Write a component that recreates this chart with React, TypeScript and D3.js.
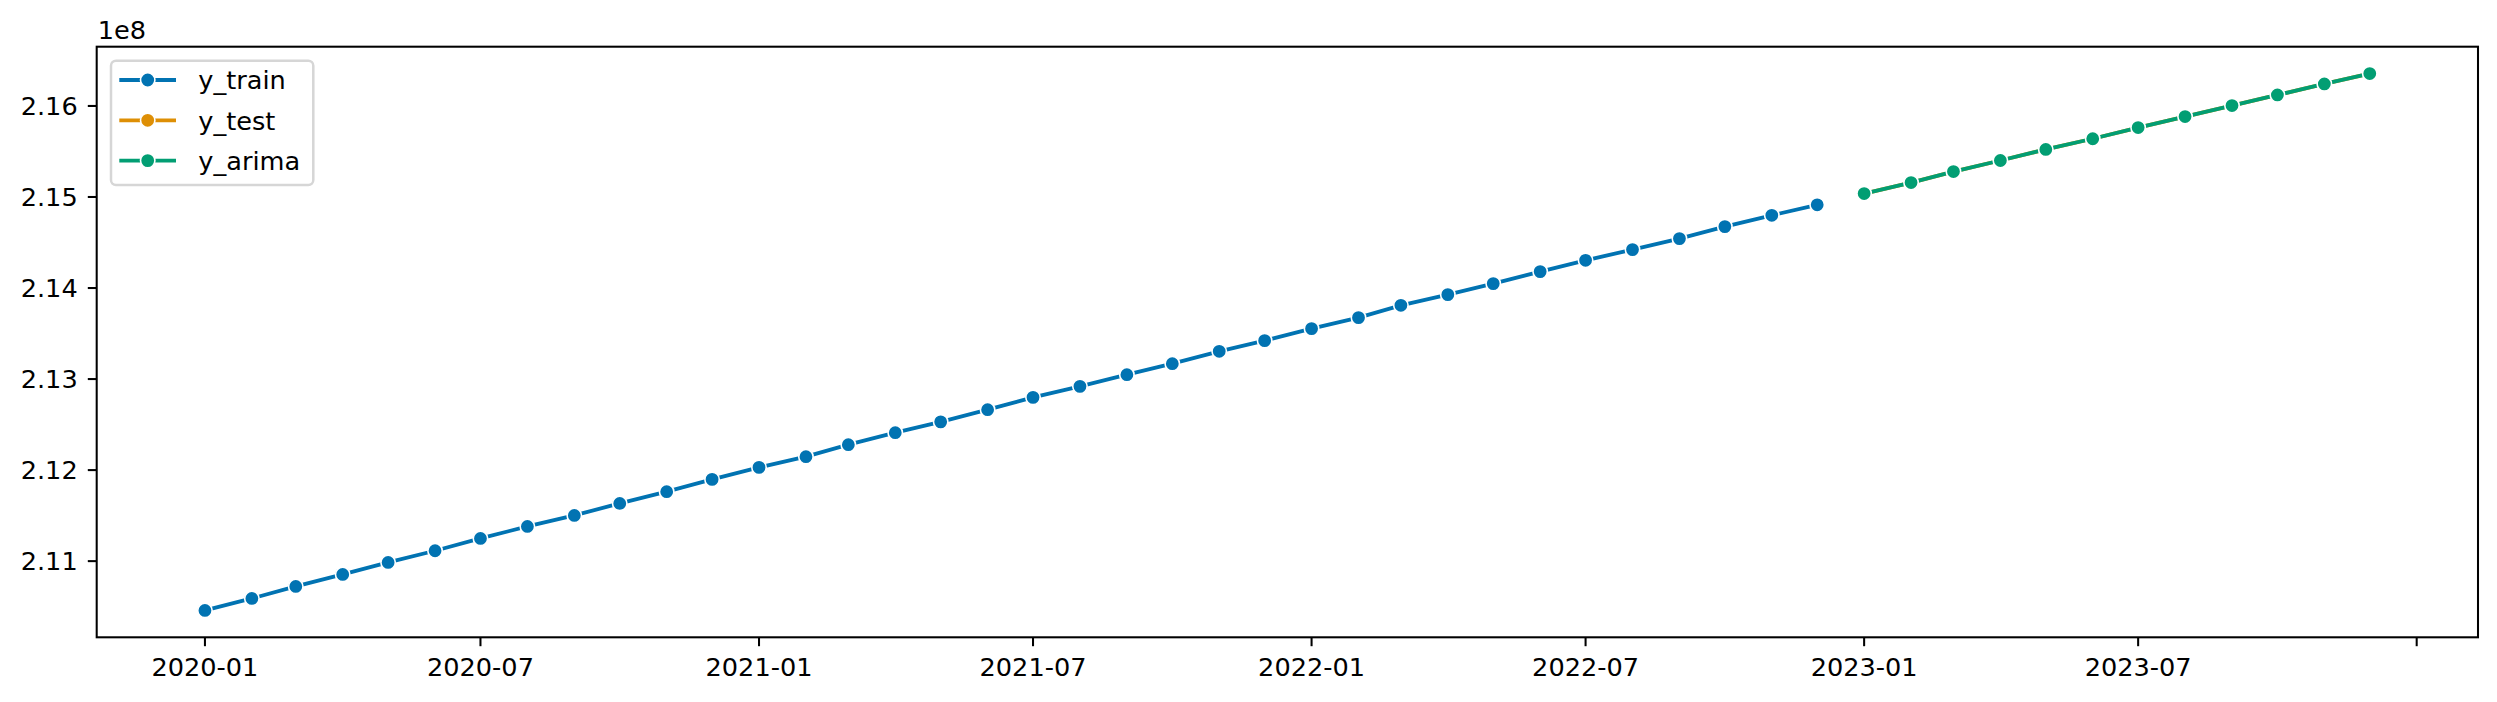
import { useEffect, useRef } from 'react';
import * as d3 from 'd3';

// monthly dates
const trainDates = [
  '2020-01', '2020-02', '2020-03', '2020-04', '2020-05', '2020-06',
  '2020-07', '2020-08', '2020-09', '2020-10', '2020-11', '2020-12',
  '2021-01', '2021-02', '2021-03', '2021-04', '2021-05', '2021-06',
  '2021-07', '2021-08', '2021-09', '2021-10', '2021-11', '2021-12',
  '2022-01', '2022-02', '2022-03', '2022-04', '2022-05', '2022-06',
  '2022-07', '2022-08', '2022-09', '2022-10', '2022-11', '2022-12',
];
const testDates = [
  '2023-01', '2023-02', '2023-03', '2023-04', '2023-05', '2023-06',
  '2023-07', '2023-08', '2023-09', '2023-10', '2023-11', '2023-12',
];

const yTrain = [
  210458200, 210590100, 210722000, 210853800, 210985700, 211114300,
  211249500, 211381300, 211502200, 211634100, 211762600, 211897800,
  212029700, 212147300, 212279100, 212411000, 212529700, 212663700,
  212798900, 212919800, 213048400, 213169200, 213304400, 213422000,
  213553800, 213674700, 213809900, 213927500, 214048400, 214180200,
  214304400, 214422000, 214542900, 214674700, 214798900, 214914300,
];
// y_test sits under y_arima in the picture
const yTest = [
  215037400, 215158200, 215279100, 215401100, 215522000, 215639600,
  215762600, 215883500, 216004400, 216120900, 216241800, 216356000,
];
const yArima = [
  215037400, 215158200, 215279100, 215401100, 215522000, 215639600,
  215762600, 215883500, 216004400, 216120900, 216241800, 216356000,
];

const xTickDates = [
  '2020-01', '2020-07', '2021-01', '2021-07', '2022-01',
  '2022-07', '2023-01', '2023-07', '2024-01',
];
const xTickLabels = [
  '2020-01', '2020-07', '2021-01', '2021-07', '2022-01',
  '2022-07', '2023-01', '2023-07', '',
];
const yTicks = [2.11, 2.12, 2.13, 2.14, 2.15, 2.16];

const seriesNames = ['y_train', 'y_test', 'y_arima'];
const colors = ['#0173b2', '#de8f05', '#029e73'];

export default function App() {
  const svgRef = useRef<SVGSVGElement>(null);

  useEffect(() => {
    const width = 2497;
    const height = 702;
    const left = 96.7;
    const right = 2478;
    const top = 46.7;
    const bottom = 637.3;
    const fontSize = 25.6;
    const font = 'DejaVu Sans, sans-serif';
    const tickLen = 8.9;
    const spineW = 2.05;
    const lineW = 3.8;
    const markerR = 7.2;

    const parse = d3.utcParse('%Y-%m');
    const series = [
      { dates: trainDates, values: yTrain },
      { dates: testDates, values: yTest },
      { dates: testDates, values: yArima },
    ].map((s) => s.dates.map((d, i) => ({ date: parse(d)!, value: s.values[i] / 1e8 })));

    const all = series.flat();
    const [d0, d1] = d3.extent(all, (d) => d.date) as [Date, Date];
    const [v0, v1] = d3.extent(all, (d) => d.value) as [number, number];
    const dPad = (d1.getTime() - d0.getTime()) * 0.05;
    const vPad = (v1 - v0) * 0.05;

    const x = d3
      .scaleUtc()
      .domain([new Date(d0.getTime() - dPad), new Date(d1.getTime() + dPad)])
      .range([left, right]);
    const y = d3.scaleLinear().domain([v0 - vPad, v1 + vPad]).range([bottom, top]);

    const svg = d3.select(svgRef.current);
    svg.selectAll('*').remove();
    svg.attr('width', width).attr('height', height);

    svg.append('rect').attr('width', width).attr('height', height).attr('fill', '#fff');

    // x ticks
    const xt = svg.append('g');
    xTickDates.forEach((t, i) => {
      const px = x(parse(t)!);
      xt.append('line')
        .attr('x1', px).attr('x2', px)
        .attr('y1', bottom).attr('y2', bottom + tickLen)
        .attr('stroke', '#000').attr('stroke-width', spineW);
      xt.append('text')
        .attr('x', px).attr('y', bottom + 38.5)
        .attr('text-anchor', 'middle')
        .attr('font-family', font).attr('font-size', fontSize)
        .attr('fill', '#000')
        .text(xTickLabels[i]);
    });

    // y ticks
    const yt = svg.append('g');
    yTicks.forEach((t) => {
      const py = y(t);
      yt.append('line')
        .attr('x1', left - tickLen).attr('x2', left)
        .attr('y1', py).attr('y2', py)
        .attr('stroke', '#000').attr('stroke-width', spineW);
      yt.append('text')
        .attr('x', left - 19).attr('y', py)
        .attr('dy', '0.36em')
        .attr('text-anchor', 'end')
        .attr('font-family', font).attr('font-size', fontSize)
        .attr('fill', '#000')
        .text(t.toFixed(2));
    });

    svg.append('text')
      .attr('x', left + 1).attr('y', top - 8)
      .attr('font-family', font).attr('font-size', fontSize)
      .attr('fill', '#000')
      .text('1e8');

    // lines + markers
    const line = d3
      .line<{ date: Date; value: number }>()
      .x((d) => x(d.date))
      .y((d) => y(d.value));

    series.forEach((s, i) => {
      const g = svg.append('g');
      g.append('path')
        .datum(s)
        .attr('d', line)
        .attr('fill', 'none')
        .attr('stroke', colors[i])
        .attr('stroke-width', lineW);
      g.selectAll('circle')
        .data(s)
        .enter()
        .append('circle')
        .attr('cx', (d) => x(d.date))
        .attr('cy', (d) => y(d.value))
        .attr('r', markerR)
        .attr('fill', colors[i])
        .attr('stroke', '#fff')
        .attr('stroke-width', 1.6);
    });

    // spines
    svg.append('rect')
      .attr('x', left).attr('y', top)
      .attr('width', right - left).attr('height', bottom - top)
      .attr('fill', 'none')
      .attr('stroke', '#000')
      .attr('stroke-width', spineW);

    // legend
    const lg = svg.append('g');
    lg.append('rect')
      .attr('x', 111).attr('y', 60.7)
      .attr('width', 202.3).attr('height', 124.3)
      .attr('rx', 5)
      .attr('fill', '#fff').attr('fill-opacity', 0.8)
      .attr('stroke', '#d6d6d6').attr('stroke-width', 2.5);
    seriesNames.forEach((name, i) => {
      const ly = 80 + i * 40.3;
      lg.append('line')
        .attr('x1', 119.3).attr('x2', 176)
        .attr('y1', ly).attr('y2', ly)
        .attr('stroke', colors[i]).attr('stroke-width', lineW);
      lg.append('circle')
        .attr('cx', 147.7).attr('cy', ly).attr('r', markerR)
        .attr('fill', colors[i])
        .attr('stroke', '#fff').attr('stroke-width', 1.6);
      lg.append('text')
        .attr('x', 198.3).attr('y', ly)
        .attr('dy', '0.36em')
        .attr('font-family', font).attr('font-size', fontSize)
        .attr('fill', '#000')
        .text(name);
    });
  }, []);

  return (
    <svg
      ref={svgRef}
      style={{ position: 'absolute', left: 0, top: 0, display: 'block' }}
    ></svg>
  );
}
